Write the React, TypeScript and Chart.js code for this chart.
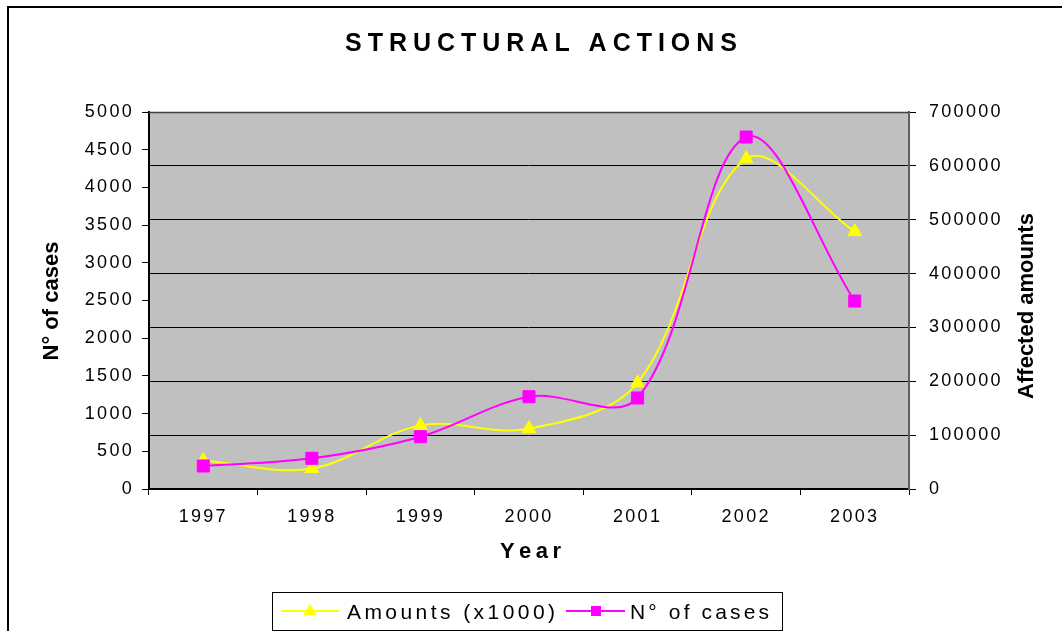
import React, { useEffect, useRef } from 'react';
import { Chart, registerables } from 'chart.js';

Chart.register(...registerables);

// ---- data ----
const years = ['1997', '1998', '1999', '2000', '2001', '2002', '2003'];
const amounts = [53000, 38000, 118000, 112000, 197000, 613000, 478000];
const cases = [305, 407, 694, 1224, 1207, 4668, 2493];

const casesMin = 0;
const casesMax = 5000;
const casesStep = 500;
const amountsMin = 0;
const amountsMax = 700000;
const amountsStep = 100000;

const TITLE = 'STRUCTURAL ACTIONS';
const X_TITLE = 'Year';
const Y_TITLE = 'N° of cases';
const Y1_TITLE = 'Affected amounts';
const SERIES_AMOUNTS = 'Amounts (x1000)';
const SERIES_CASES = 'N° of cases';

const FONT = "'Liberation Sans', Arial, Helvetica, sans-serif";
const YELLOW = '#FFFF00';
const MAGENTA = '#FF00FF';

function drawSpaced(ctx: CanvasRenderingContext2D, text: string, left: number, y: number, width: number, font: string) {
  ctx.font = font;
  const chars = Array.from(text);
  const widths = chars.map((c) => ctx.measureText(c).width);
  const natural = widths.reduce((a, b) => a + b, 0);
  const gap = chars.length > 1 ? (width - natural) / (chars.length - 1) : 0;
  let x = left;
  chars.forEach((c, i) => {
    ctx.fillText(c, x, y);
    x += widths[i] + gap;
  });
}

const decor = {
  id: 'decor',
  beforeDraw(chart: any) {
    const ctx: any = chart.ctx;
    const a = chart.chartArea;
    ctx.save();
    ctx.fillStyle = '#ffffff';
    ctx.fillRect(0, 0, chart.width, chart.height);
    ctx.fillStyle = '#C0C0C0';
    ctx.fillRect(a.left, a.top, a.right - a.left, a.bottom - a.top);
    ctx.restore();
    try { ctx.letterSpacing = '2.3px'; } catch (e) { /* ignore */ }
  },
  beforeDatasetsDraw(chart: any) {
    const ctx = chart.ctx;
    const a = chart.chartArea;
    ctx.save();
    ctx.strokeStyle = '#404040';
    ctx.lineWidth = 1.5;
    ctx.beginPath();
    ctx.moveTo(a.left, a.top + 0.5);
    ctx.lineTo(a.right, a.top + 0.5);
    ctx.stroke();
    ctx.restore();
  },
  afterDraw(chart: any) {
    const ctx: any = chart.ctx;
    try { ctx.letterSpacing = '0px'; } catch (e) { /* ignore */ }
    ctx.save();
    // outer frame
    ctx.fillStyle = '#000';
    ctx.fillRect(7, 6, 2, chart.height - 6);
    ctx.fillRect(7, 6, chart.width - 7, 2);

    ctx.fillStyle = '#000';
    ctx.textAlign = 'left';
    ctx.textBaseline = 'alphabetic';
    drawSpaced(ctx, TITLE, 345, 51, 392, `bold 25px ${FONT}`);
    drawSpaced(ctx, X_TITLE, 500, 558, 61, `bold 22px ${FONT}`);

    ctx.font = `bold 22px ${FONT}`;
    ctx.textAlign = 'center';
    ctx.textBaseline = 'middle';
    ctx.save();
    ctx.translate(52, 301);
    ctx.rotate(-Math.PI / 2);
    ctx.fillText(Y_TITLE, 0, 0);
    ctx.restore();
    ctx.save();
    ctx.translate(1027, 306);
    ctx.rotate(-Math.PI / 2);
    ctx.fillText(Y1_TITLE, 0, 0);
    ctx.restore();

    // legend
    ctx.strokeStyle = '#000';
    ctx.lineWidth = 1;
    ctx.strokeRect(272.5, 592.5, 510, 38);
    const ly = 611;
    ctx.lineWidth = 2;
    ctx.strokeStyle = YELLOW;
    ctx.beginPath();
    ctx.moveTo(281, ly);
    ctx.lineTo(339, ly);
    ctx.stroke();
    ctx.fillStyle = YELLOW;
    ctx.beginPath();
    ctx.moveTo(310, ly - 7);
    ctx.lineTo(316.5, ly + 4);
    ctx.lineTo(303.5, ly + 4);
    ctx.closePath();
    ctx.fill();

    ctx.strokeStyle = MAGENTA;
    ctx.beginPath();
    ctx.moveTo(566, ly);
    ctx.lineTo(625, ly);
    ctx.stroke();
    ctx.fillStyle = MAGENTA;
    ctx.fillRect(591, ly - 5, 10, 10);

    ctx.fillStyle = '#000';
    ctx.textAlign = 'left';
    ctx.textBaseline = 'alphabetic';
    drawSpaced(ctx, SERIES_AMOUNTS, 347, ly + 8, 208, `21px ${FONT}`);
    drawSpaced(ctx, SERIES_CASES, 630, ly + 8, 139, `21px ${FONT}`);
    ctx.restore();
  },
};

export default function App() {
  const canvasRef = useRef<HTMLCanvasElement | null>(null);

  useEffect(() => {
    const canvas = canvasRef.current;
    if (!canvas) return;
    const tickFont = { size: 18, family: FONT };
    const chart = new Chart(canvas, {
      type: 'line',
      data: {
        labels: years,
        datasets: [
          {
            label: SERIES_AMOUNTS,
            data: amounts,
            yAxisID: 'y1',
            borderColor: YELLOW,
            backgroundColor: YELLOW,
            borderWidth: 2,
            pointStyle: 'triangle',
            pointRadius: 8,
            pointBorderWidth: 1,
            tension: 0.35,
            order: 2,
          },
          {
            label: SERIES_CASES,
            data: cases,
            yAxisID: 'y',
            borderColor: MAGENTA,
            backgroundColor: MAGENTA,
            borderWidth: 2,
            pointStyle: 'rect',
            pointRadius: 8.5,
            pointBorderWidth: 1,
            tension: 0.35,
            order: 1,
          },
        ],
      },
      options: {
        responsive: false,
        animation: false,
        devicePixelRatio: 1,
        layout: { padding: { top: 112, left: 0, right: 48, bottom: 82 } },
        plugins: {
          legend: { display: false },
          title: { display: false },
          tooltip: { enabled: false },
        },
        scales: {
          x: {
            offset: true,
            grid: { offset: true, drawOnChartArea: false, drawTicks: true, tickLength: 6, tickColor: '#000', tickWidth: 1 },
            border: { display: true, color: '#000', width: 2 },
            ticks: { color: '#000', font: tickFont, padding: 11, maxRotation: 0, autoSkip: false },
            afterFit: (s: any) => { s.height = 60; },
          },
          y: {
            position: 'left',
            min: casesMin,
            max: casesMax,
            ticks: { stepSize: casesStep, color: '#000', font: tickFont, padding: 8, callback: (v: any) => String(v) },
            grid: { drawOnChartArea: false, drawTicks: true, tickLength: 7, tickColor: '#000', tickWidth: 1 },
            border: { display: true, color: '#000', width: 2 },
            afterFit: (s: any) => { s.width = 149; },
          },
          y1: {
            position: 'right',
            min: amountsMin,
            max: amountsMax,
            ticks: { stepSize: amountsStep, color: '#000', font: tickFont, padding: 13, callback: (v: any) => String(v) },
            grid: { drawOnChartArea: true, color: '#000', lineWidth: 1, drawTicks: true, tickLength: 7, tickColor: '#000', tickWidth: 1 },
            border: { display: true, color: '#606060', width: 2 },
            afterFit: (s: any) => { s.width = 105; },
          },
        },
      } as any,
      plugins: [decor],
    });
    return () => chart.destroy();
  }, []);

  return (
    <div style={{ position: 'fixed', left: 0, top: 0, width: 1062, height: 631, background: '#fff' }}>
      <canvas ref={canvasRef} width={1062} height={631} style={{ display: 'block' }} />
    </div>
  );
}
